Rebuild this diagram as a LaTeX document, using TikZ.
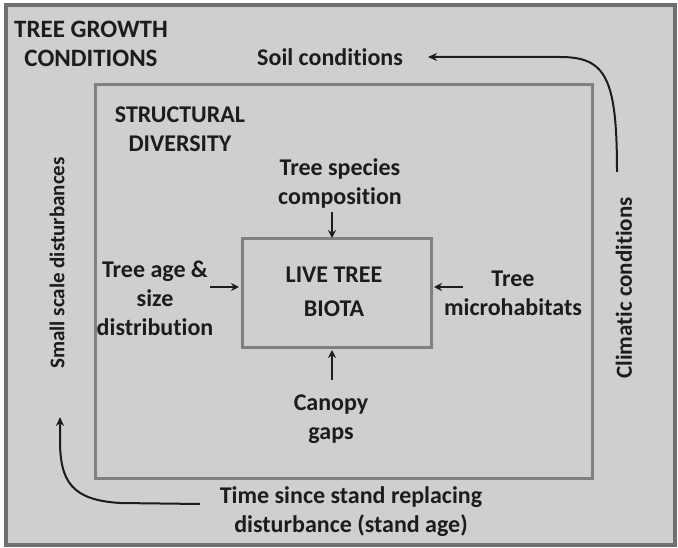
\documentclass[tikz,border=0pt]{standalone}
\usepackage{fontspec}
\setmainfont[Ligatures=NoCommon]{Carlito}
\usetikzlibrary{arrows.meta}
\definecolor{bgc}{RGB}{207,207,207}
\definecolor{framec}{RGB}{112,112,112}
\definecolor{boxc}{RGB}{128,128,128}
\definecolor{txtc}{RGB}{28,28,28}
\tikzset{
  lbl/.style={font=\bfseries\fontsize{24}{29}\selectfont, text=txtc, align=center, inner sep=0pt},
  arr/.style={draw=txtc, line width=1.8pt, -{Stealth[length=8pt,width=8pt]}},
  carr/.style={draw=txtc, line width=2pt, -{Stealth[length=9pt,width=8pt]}},
  framebox/.style={draw=boxc, line width=3pt}
}
\begin{document}
\begin{tikzpicture}[x=1pt,y=-1pt]
\useasboundingbox (0,0) rectangle (678,548);
\fill[white] (0,0) rectangle (678,548);
\draw[fill=bgc, draw=framec, line width=4pt] (6,5) rectangle (675,545);
\node[framebox, minimum width=497pt, minimum height=393pt] (sd) at (343.5,281.5) {};
\node[framebox, minimum width=189pt, minimum height=109pt] (live) at (336.5,293.5) {};
\node[lbl, font=\bfseries\fontsize{24}{34}\selectfont] (livet) at (334,292) {LIVE TREE\\BIOTA};
\node[lbl, font=\bfseries\fontsize{25}{29}\selectfont] (title) at (91,44) {TREE GROWTH\\CONDITIONS};
\node[lbl] (soil) at (330,57) {Soil conditions};
\node[lbl] (struct) at (180,129) {STRUCTURAL\\DIVERSITY};
\node[lbl] (species) at (340,183) {Tree species\\composition};
\node[lbl] (age) at (155,298) {Tree age \&\\size\\distribution};
\node[lbl] (micro) at (513,293) {Tree\\microhabitats};
\node[lbl] (canopy) at (331,419) {Canopy\\gaps};
\node[lbl] (time) at (351,512) {Time since stand replacing\\disturbance (stand age)};
\node[lbl, rotate=90, font=\bfseries\fontsize{21}{25}\selectfont] (small) at (57,263) {Small scale disturbances};
\node[lbl, rotate=90, font=\bfseries\fontsize{23}{28}\selectfont] (clim) at (624,288) {Climatic conditions};
% connector ends
\coordinate (spT) at (332,212);
\coordinate (spH) at (332,238);
\coordinate (caT) at (332,380);
\coordinate (caH) at (332,350);
\coordinate (agT) at (210,287);
\coordinate (agH) at (239,287);
\coordinate (miT) at (463,287);
\coordinate (miH) at (434,287);
\coordinate (clT) at (617,172);
\coordinate (soH) at (428,57);
\coordinate (tiT) at (200,504);
\coordinate (smH) at (60,417);
\draw[arr] (spT) -- (spH);
\draw[arr] (caT) -- (caH);
\draw[arr] (agT) -- (agH);
\draw[arr] (miT) -- (miH);
\draw[carr] (clT) .. controls (617,78) and (606,57) .. (560,57) -- (soH);
\draw[carr] (tiT) -- (120,503) .. controls (72,500) and (60,482) .. (60,440) -- (smH);
\end{tikzpicture}
\end{document}
